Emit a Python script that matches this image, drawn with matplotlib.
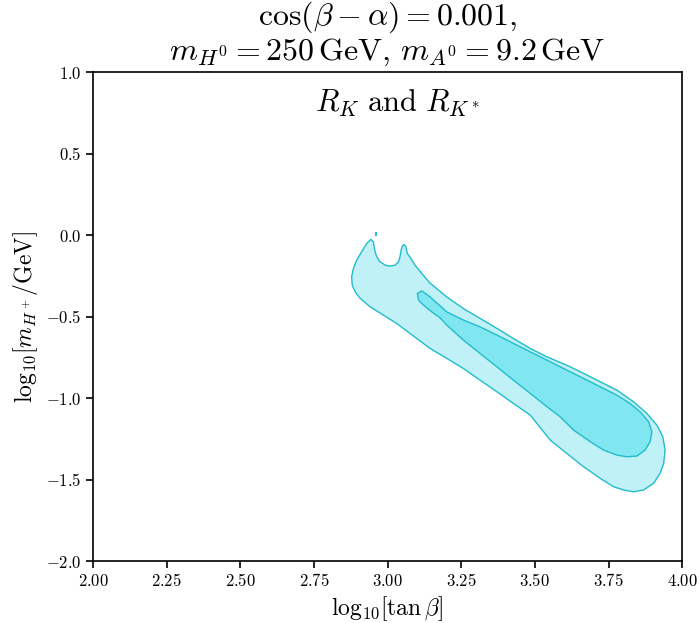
import matplotlib
matplotlib.use("Agg")
import matplotlib.pyplot as plt
from matplotlib.ticker import FuncFormatter

plt.rcParams["mathtext.fontset"] = "cm"
plt.rcParams["font.family"] = "serif"
plt.rcParams["font.serif"] = ["DejaVu Serif"]

# outer region boundary (log10 tan(beta), log10 mH+)
outer_x = [2.943, 2.952, 2.955, 2.961, 2.972, 2.992, 3.008, 3.025, 3.037, 3.042,
           3.046, 3.050, 3.056, 3.062, 3.067, 3.079, 3.093, 3.116, 3.144, 3.201,
           3.257, 3.314, 3.371, 3.427, 3.484, 3.541, 3.608, 3.665, 3.722, 3.778,
           3.835, 3.880, 3.914, 3.934, 3.942, 3.937, 3.925, 3.903, 3.869, 3.835,
           3.801, 3.767, 3.722, 3.665, 3.608, 3.552, 3.484, 3.427, 3.371, 3.314,
           3.257, 3.201, 3.144, 3.076, 3.031, 2.986, 2.941, 2.907, 2.890, 2.880,
           2.878, 2.884, 2.895, 2.912, 2.929]
outer_y = [-0.026, -0.041, -0.082, -0.123, -0.160, -0.184, -0.190, -0.184, -0.164, -0.133,
           -0.092, -0.066, -0.057, -0.072, -0.112, -0.143, -0.184, -0.235, -0.294, -0.379,
           -0.450, -0.511, -0.572, -0.634, -0.695, -0.747, -0.798, -0.848, -0.900, -0.951,
           -1.023, -1.094, -1.166, -1.237, -1.319, -1.401, -1.462, -1.523, -1.564, -1.575,
           -1.564, -1.544, -1.493, -1.421, -1.339, -1.258, -1.104, -1.033, -0.961, -0.890,
           -0.818, -0.756, -0.695, -0.603, -0.542, -0.491, -0.440, -0.388, -0.348, -0.307,
           -0.256, -0.204, -0.153, -0.102, -0.051]

# inner region boundary
inner_x = [3.101, 3.116, 3.144, 3.201, 3.257, 3.314, 3.371, 3.427, 3.484, 3.541,
           3.608, 3.665, 3.722, 3.778, 3.823, 3.857, 3.886, 3.897, 3.891, 3.874,
           3.846, 3.812, 3.778, 3.733, 3.688, 3.631, 3.586, 3.541, 3.484, 3.427,
           3.371, 3.314, 3.257, 3.201, 3.178, 3.150, 3.122, 3.105]
inner_y = [-0.358, -0.342, -0.379, -0.471, -0.521, -0.563, -0.613, -0.664, -0.716, -0.767,
           -0.828, -0.879, -0.931, -0.982, -1.033, -1.084, -1.145, -1.207, -1.268, -1.319,
           -1.356, -1.360, -1.350, -1.319, -1.268, -1.196, -1.115, -1.053, -0.971, -0.890,
           -0.808, -0.726, -0.644, -0.552, -0.507, -0.471, -0.429, -0.399]

# tiny isolated island above the left lobe
dot_x = [2.957, 2.959, 2.959, 2.957]
dot_y = [0.000, 0.000, 0.022, 0.022]

light = "#bff1f6"
dark = "#80e6f0"
edge = "#22bccd"

fig = plt.figure(figsize=(6.99, 6.23), dpi=100)
ax = fig.add_axes([0.133, 0.0995, 0.843, 0.7845])

ax.fill(outer_x, outer_y, facecolor=light, edgecolor=edge, lw=1.0)
ax.fill(inner_x, inner_y, facecolor=dark, edgecolor=edge, lw=1.0)
ax.fill(dot_x, dot_y, facecolor=light, edgecolor=edge, lw=0.8)

ax.set_xlim(2.0, 4.0)
ax.set_ylim(-2.0, 1.0)
ax.set_xticks([2.0, 2.25, 2.5, 2.75, 3.0, 3.25, 3.5, 3.75, 4.0])
ax.set_yticks([-2.0, -1.5, -1.0, -0.5, 0.0, 0.5, 1.0])
ax.xaxis.set_major_formatter(FuncFormatter(lambda v, p: "$%.2f$" % v))
ax.yaxis.set_major_formatter(FuncFormatter(lambda v, p: "$%.1f$" % v))
ax.tick_params(labelsize=12, width=1.2, length=5)
for s in ax.spines.values():
    s.set_linewidth(1.2)

ax.set_xlabel(r"$\mathrm{log}_{10}[\tan\beta]$", fontsize=17, labelpad=3)
ax.set_ylabel(r"$\mathrm{log}_{10}[m_{H^+}/\mathrm{GeV}]$", fontsize=17)
ax.set_title(r"$\cos(\beta-\alpha)=0.001,$" + "\n" +
             r"$m_{H^0}=250\,\mathrm{GeV},\,m_{A^0}=9.2\,\mathrm{GeV}$",
             fontsize=23, pad=9, linespacing=1.05)
ax.text(0.517, 0.968, r"$R_K\ \mathrm{and}\ R_{K^*}$", transform=ax.transAxes,
        ha="center", va="top", fontsize=22)

fig.savefig("out.png", dpi=100)
